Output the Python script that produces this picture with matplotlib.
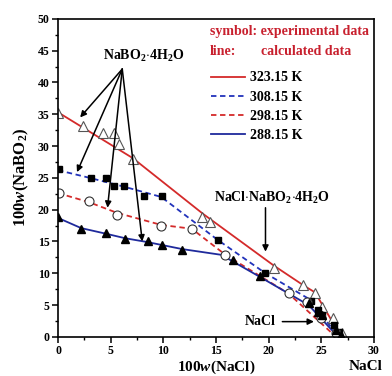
import matplotlib
matplotlib.use("Agg")
import matplotlib.pyplot as plt
from matplotlib.ticker import MultipleLocator

plt.rcParams["font.family"] = ["Liberation Serif", "DejaVu Serif"]
plt.rcParams["font.weight"] = "bold"
plt.rcParams["axes.labelweight"] = "bold"
plt.rcParams["mathtext.fontset"] = "custom"
plt.rcParams["mathtext.rm"] = "Liberation Serif:bold"
plt.rcParams["mathtext.it"] = "Liberation Serif:bold:italic"
plt.rcParams["mathtext.bf"] = "Liberation Serif:bold"

# experimental solubility points, 100w(NaCl) vs 100w(NaBO2)
exp_323_x = [0.0, 2.4, 4.3, 5.3, 5.8, 7.1, 13.7, 14.4, 20.5, 23.3, 24.4, 25.1, 26.1, 27.0]
exp_323_y = [35.2, 33.1, 32.1, 32.1, 30.3, 27.9, 18.9, 18.1, 10.9, 8.2, 6.9, 4.7, 3.0, 0.6]
exp_308_x = [0.1, 3.1, 4.6, 5.3, 6.3, 8.2, 9.9, 15.2, 19.7, 24.0, 24.7, 25.1, 26.2, 26.7]
exp_308_y = [26.4, 24.9, 24.9, 23.7, 23.7, 22.1, 22.1, 15.2, 10.1, 5.6, 4.3, 3.4, 1.9, 0.8]
exp_298_x = [0.1, 2.9, 5.6, 9.8, 12.7, 15.9, 21.9, 23.6, 25.0, 26.4]
exp_298_y = [22.6, 21.4, 19.1, 17.4, 17.0, 12.8, 6.9, 5.5, 3.0, 0.6]
exp_288_x = [0.0, 2.2, 4.6, 6.4, 8.5, 9.9, 11.8, 16.6, 19.2, 23.8, 24.7, 25.1, 26.4, 26.9]
exp_288_y = [18.8, 17.0, 16.4, 15.4, 15.1, 14.5, 13.7, 12.1, 9.5, 5.4, 3.9, 3.5, 1.1, 0.3]

# calculated solubility curves
calc_323_x = [0, 7.1, 13.8, 20.5, 23.4, 24.4, 26.9]
calc_323_y = [35.3, 28.1, 19.3, 11.2, 8.0, 7.0, 0.0]
calc_308_x = [0, 3.0, 6.3, 9.8, 15.2, 19.7, 24.0, 26.6]
calc_308_y = [26.2, 25.0, 23.6, 22.0, 15.2, 10.0, 5.8, 0.0]
calc_298_x = [0, 2.9, 5.6, 9.8, 12.7, 15.9, 21.9, 26.4]
calc_298_y = [22.6, 21.2, 19.5, 17.6, 17.0, 12.9, 6.8, 0.0]
calc_288_x = [0, 2.2, 4.6, 6.4, 8.5, 11.8, 15.5, 19.2, 23.8, 26.6]
calc_288_y = [18.7, 17.1, 16.2, 15.5, 14.9, 13.8, 12.9, 9.4, 5.0, 0.0]

temps = ["323.15 K", "308.15 K", "298.15 K", "288.15 K"]

red = "#d42a2a"
text_red = "#c8202e"
blue = "#1f2a9c"
dash = (0, (3, 2))

fig = plt.figure(figsize=(3.92, 3.76), dpi=100)
ax = fig.add_axes([0.148, 0.104, 0.806, 0.846])

l1, = ax.plot(calc_323_x, calc_323_y, color=red, lw=1.3)
l2, = ax.plot(calc_308_x, calc_308_y, color="#2233bb", lw=1.3, linestyle=dash)
l3, = ax.plot(calc_298_x, calc_298_y, color=red, lw=1.3, linestyle=dash)
l4, = ax.plot(calc_288_x, calc_288_y, color=blue, lw=1.3)

ax.plot(exp_323_x, exp_323_y, "^", ms=7, mfc="white", mec="#555555", mew=0.8)
ax.plot(exp_308_x, exp_308_y, "s", ms=4.5, mfc="black", mec="black")
ax.plot(exp_298_x, exp_298_y, "o", ms=6.5, mfc="white", mec="#333333", mew=0.8)
ax.plot(exp_288_x, exp_288_y, "^", ms=5.5, mfc="black", mec="black")

ax.set_xlim(0, 30)
ax.set_ylim(0, 50)
ax.xaxis.set_major_locator(MultipleLocator(5))
ax.xaxis.set_minor_locator(MultipleLocator(2.5))
ax.yaxis.set_major_locator(MultipleLocator(5))
ax.yaxis.set_minor_locator(MultipleLocator(2.5))
ax.tick_params(which="major", direction="out", length=4, width=1.1, labelsize=8.5, pad=2)
ax.tick_params(which="minor", direction="out", length=2.5, width=1.0)
for s in ax.spines.values():
    s.set_linewidth(1.2)

ax.set_xlabel(r"100$w$(NaCl)", fontsize=11)
ax.xaxis.set_label_coords(0.5, -0.068)
ax.set_ylabel(r"100$w$(NaBO$_2$)", fontsize=12, labelpad=5)
fig.text(366 / 392, 1 - 367 / 376, "NaCl", fontsize=11, ha="center", va="center")

# legend block
ax.text(0.481, 0.959, "symbol: experimental data", transform=ax.transAxes,
        color=text_red, fontsize=10, va="center")
ax.text(0.481, 0.896, "line:", transform=ax.transAxes, color=text_red, fontsize=10, va="center")
ax.text(0.641, 0.896, "calculated data", transform=ax.transAxes, color=text_red,
        fontsize=10, va="center")
ax.legend([l1, l2, l3, l4], temps, loc="upper left", bbox_to_anchor=(0.455, 0.865),
          frameon=False, fontsize=10, handlelength=2.4, handletextpad=0.4,
          labelspacing=0.45, borderpad=0.2)

# phase annotations
arrow = dict(arrowstyle="-|>", color="black", lw=1.1, mutation_scale=9,
             shrinkA=0, shrinkB=0)
ax.text(8.1, 44.2, r"NaBO$_2$$\cdot$4H$_2$O", fontsize=10, ha="center", va="center")
for tip in [(2.1, 34.5), (1.8, 25.9), (4.7, 20.3), (8.0, 15.0)]:
    ax.annotate("", xy=tip, xytext=(6.1, 42.1), arrowprops=arrow)

ax.text(20.3, 21.9, r"NaCl$\cdot$NaBO$_2$$\cdot$4H$_2$O", fontsize=10, ha="center", va="center")
ax.annotate("", xy=(19.7, 13.4), xytext=(19.7, 20.3), arrowprops=arrow)

ax.text(19.2, 2.4, "NaCl", fontsize=10, ha="center", va="center")
ax.annotate("", xy=(24.3, 2.4), xytext=(21.3, 2.4), arrowprops=arrow)

fig.savefig("out.png", dpi=100)
